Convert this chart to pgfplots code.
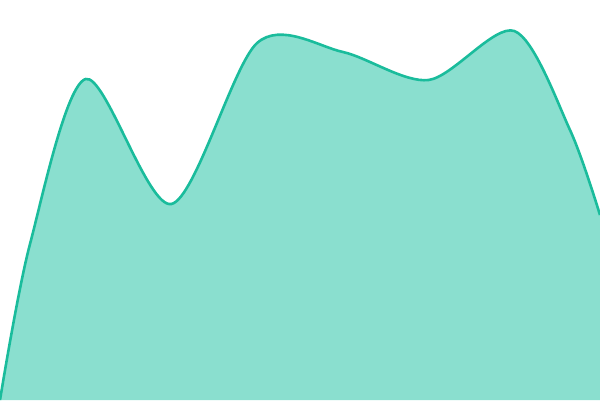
\documentclass[border=0pt]{standalone}
\usepackage{pgfplots}
\pgfplotsset{compat=1.18}
\usepackage{pgfplotstable}
\definecolor{turq}{HTML}{1ABC9C}
\definecolor{turqfill}{HTML}{8ADFCF}
% x in pixels, y = height above the bottom
\pgfplotstableread{
x y
0 0
30 156
85.7 321
171.4 196
257.1 357
342.9 348
428.6 320
514.3 369
570 270
600 185
}\curve
\begin{document}
\begin{tikzpicture}
\begin{axis}[
    width=600pt, height=400pt, scale only axis,
    xmin=0, xmax=600, ymin=0, ymax=400,
    hide axis, clip=true,
  ]
  \path (rel axis cs:0,0) rectangle (rel axis cs:1,1);
  \addplot[draw=none, fill=turqfill, smooth] table {\curve} \closedcycle;
  \addplot[turq, line width=2.6pt, smooth] table {\curve};
\end{axis}
\end{tikzpicture}
\end{document}
